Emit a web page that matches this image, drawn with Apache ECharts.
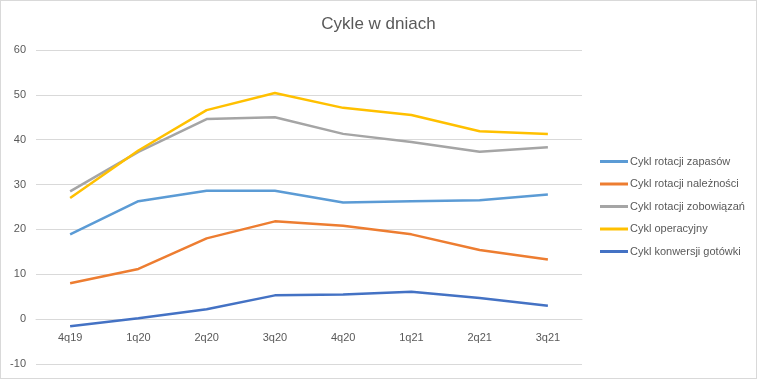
<!DOCTYPE html>
<html><head><meta charset="utf-8">
<script src="https://cdn.jsdelivr.net/npm/echarts@6/dist/echarts.min.js"></script>
<style>
html,body{margin:0;padding:0;background:#fff;}
#c{width:755px;height:377px;border:1px solid #d9d9d9;}
</style></head>
<body><div id="c"></div>
<script>
const categories = ['4q19','1q20','2q20','3q20','4q20','1q21','2q21','3q21'];
const zapasow = [18.9, 26.3, 28.6, 28.6, 26.0, 26.3, 26.5, 27.8];
const naleznosci = [8.0, 11.2, 18.0, 21.8, 20.8, 18.9, 15.4, 13.3];
const zobowiazan = [28.5, 37.3, 44.6, 45.0, 41.3, 39.5, 37.3, 38.3];
const operacyjny = [27.0, 37.6, 46.6, 50.4, 47.1, 45.5, 41.9, 41.3];
const konwersji = [-1.6, 0.2, 2.2, 5.3, 5.5, 6.1, 4.7, 3.0];
const yTicks = {min: -10, max: 60, interval: 10};
const names = ['Cykl rotacji zapasów','Cykl rotacji należności','Cykl rotacji zobowiązań','Cykl operacyjny','Cykl konwersji gotówki'];
const colors = ['#5b9bd5','#ed7d31','#a5a5a5','#ffc000','#4472c4'];
const data = [zapasow, naleznosci, zobowiazan, operacyjny, konwersji];

const chart = echarts.init(document.getElementById('c'));
const font = '"Liberation Sans", Arial, sans-serif';
chart.setOption({
  animation: false,
  textStyle: {fontFamily: font},
  title: {text: 'Cykle w dniach', left: 'center', top: 10,
    textStyle: {fontSize: 17, fontWeight: 'normal', color: '#595959', fontFamily: font}},
  grid: {left: 35, right: 174, top: 49, bottom: 14, containLabel: false},
  legend: {
    orient: 'vertical', left: 599, top: 154, itemGap: 9.5, padding: 0,
    itemWidth: 28, itemHeight: 3, icon: 'rect',
    textStyle: {fontSize: 11, color: '#595959', lineHeight: 13, padding: [0,0,0,-3]},
    data: names
  },
  xAxis: {
    type: 'category', data: categories, boundaryGap: true,
    axisLine: {onZero: true, lineStyle: {color: '#d9d9d9'}},
    axisTick: {show: false},
    axisLabel: {color: '#595959', fontSize: 11, margin: -32}
  },
  yAxis: {
    type: 'value', min: yTicks.min, max: yTicks.max, interval: yTicks.interval,
    axisLine: {show: false}, axisTick: {show: false},
    splitLine: {lineStyle: {color: '#d9d9d9'}},
    axisLabel: {color: '#595959', fontSize: 11, margin: 10}
  },
  series: names.map((n, i) => ({
    name: n, type: 'line', data: data[i], symbol: 'none',
    lineStyle: {width: 2.5, color: colors[i]}, itemStyle: {color: colors[i]},
    z: 2 + i
  }))
});
</script></body></html>
